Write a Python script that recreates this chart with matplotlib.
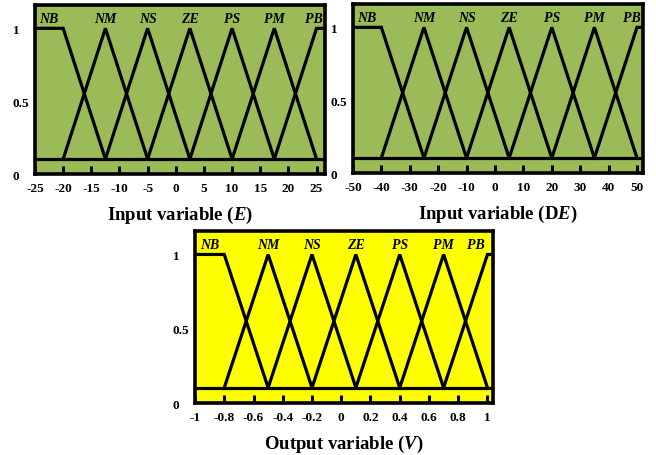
import numpy as np
import matplotlib
matplotlib.use('Agg')
import matplotlib.pyplot as plt

plt.rcParams['font.family'] = 'Liberation Serif'
plt.rcParams['font.weight'] = 'bold'
plt.rcParams['mathtext.fontset'] = 'custom'
plt.rcParams['mathtext.rm'] = 'Liberation Serif:bold'
plt.rcParams['mathtext.it'] = 'Liberation Serif:italic:bold'

# fuzzy sets and their peak positions on each universe
sets = ['NB', 'NM', 'NS', 'ZE', 'PS', 'PM', 'PB']

e_ticks = [-25, -20, -15, -10, -5, 0, 5, 10, 15, 20, 25]
e_peaks = [-20, -12.5, -5, 2.5, 10, 17.5, 25]

de_ticks = [-50, -40, -30, -20, -10, 0, 10, 20, 30, 40, 50]
de_peaks = [-40, -25, -10, 5, 20, 35, 50]

v_ticks = [-1, -0.8, -0.6, -0.4, -0.2, 0, 0.2, 0.4, 0.6, 0.8, 1]
v_peaks = [-0.8, -0.5, -0.2, 0.1, 0.4, 0.7, 1.0]

mu_ticks = [0, 0.5, 1]

green = '#9bbb59'
yellow = '#ffff00'
base = 0.103   # membership zero level drawn above box bottom
top = 1.16


def draw_panel(ax, ticks, peaks, xlim, xlabel, face, pb_shift):
    ax.set_facecolor(face)
    ax.set_xlim(*xlim)
    ax.set_ylim(0, top)
    n = len(peaks)
    for i in range(n):
        if i == 0:
            xs = [xlim[0], peaks[0], peaks[1]]
            ys = [1, 1, base]
        elif i == n - 1:
            xs = [peaks[i - 1], peaks[i], xlim[1]]
            ys = [base, 1, 1]
        else:
            xs = [peaks[i - 1], peaks[i], peaks[i + 1]]
            ys = [base, 1, base]
        ax.plot(xs, ys, color='black', lw=2.3, solid_joinstyle='miter')
    ax.axhline(base, color='black', lw=2.3)

    # set names above the peaks
    for i, name in enumerate(sets):
        x = peaks[i]
        dx = 0
        if i == 0:
            x = (xlim[0] + peaks[0]) / 2
        if i == n - 1:
            dx = pb_shift
        ax.annotate(name, (x, 1.065), xytext=(dx, 0), textcoords='offset points',
                    ha='center', va='center', fontsize=10, style='italic',
                    fontweight='bold')

    for s in ax.spines.values():
        s.set_linewidth(2.6)
    ax.set_xticks(ticks)
    ax.set_xticklabels([f'{t:g}' for t in ticks])
    ax.tick_params(axis='x', direction='in', length=6, width=2.2, pad=6, labelsize=9.5)
    ax.set_yticks(mu_ticks)
    ax.set_yticklabels([f'{t:g}' for t in mu_ticks])
    ax.tick_params(axis='y', length=0, pad=16, labelsize=9.5)
    for lab in ax.get_yticklabels():
        lab.set_ha('left')
    ax.set_xlabel(xlabel, fontsize=13.5, fontweight='bold', labelpad=7)


fig = plt.figure(figsize=(6.56, 4.56), dpi=100)
ax1 = fig.add_axes([0.0534, 0.6162, 0.442, 0.3706])
ax2 = fig.add_axes([0.538, 0.6184, 0.4417, 0.3706])
ax3 = fig.add_axes([0.2973, 0.114, 0.4547, 0.3779])

draw_panel(ax1, e_ticks, e_peaks, (-25, 26.5), r'Input variable ($\mathit{E}$)', green, -2)
draw_panel(ax2, de_ticks, de_peaks, (-50, 52), r'Input variable (D$\mathit{E}$)', green, -4)
draw_panel(ax3, v_ticks, v_peaks, (-1, 1.04), r'Output variable ($\mathit{V}$)', yellow, -8)

fig.savefig('out.png', dpi=100)
